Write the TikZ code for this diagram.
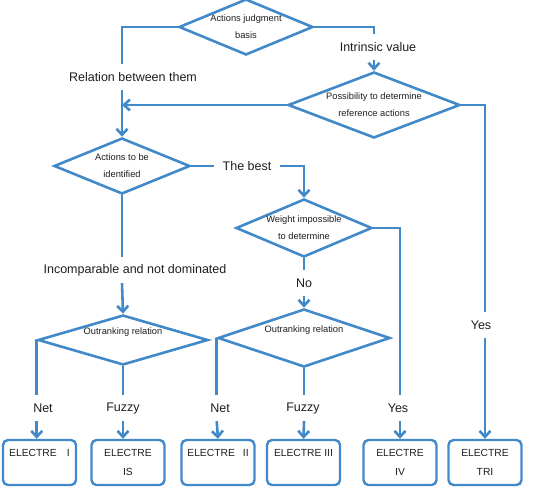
\documentclass[tikz,border=0pt]{standalone}
\usepackage{fontspec}
\setmainfont{Liberation Sans}
\usetikzlibrary{
arrows.meta,
shapes.geometric,
positioning
}
\definecolor{flowblue}{RGB}{66,137,201}
\definecolor{flowtext}{RGB}{30,30,30}
\tikzset{
  decision/.style={shape=diamond, draw=flowblue, line width=2.6pt, aspect=2.6,
    inner xsep=-6pt, inner ysep=-2pt, align=center, text=flowtext,
    font=\fontsize{9.3}{17}\selectfont},
  method/.style={shape=rectangle, rounded corners=5pt, draw=flowblue, line width=2.4pt,
    minimum width=73pt, minimum height=45pt, align=center, text=flowtext,
    font=\fontsize{10.3}{19}\selectfont},
  branch/.style={inner xsep=8pt, minimum height=26pt, text=flowtext,
    font=\fontsize{12.5}{15}\selectfont},
  flow/.style={draw=flowblue, line width=2.6pt},
  >={Straight Barb[length=6pt,width=11pt]}
}

\begin{document}
\begin{tikzpicture}[x=1pt,y=-1pt]
    \useasboundingbox (0,0) rectangle (551,490);
    % decisions
    \node [decision, minimum width=134pt, minimum height=56pt] (d1) at (246,27) {Actions judgment\\basis};
    \node [decision, minimum width=172pt, minimum height=66pt] (d2) at (374,105) {Possibility to determine\\reference actions};
    \node [decision, minimum width=136pt, minimum height=56pt] (d3) at (122,166) {Actions to be\\identified};
    \node [decision, minimum width=136pt, minimum height=58pt] (d4) at (304,228) {Weight impossible\\to determine};
    \node [decision, minimum width=170pt, minimum height=50pt] (d5) at (123,340) {Outranking relation\\\mbox{}};
    \node [decision, minimum width=172pt, minimum height=58pt] (d6) at (304,338) {Outranking relation\\\mbox{}};
    % methods
    \node [method] (e1) at (39.5,462.5) {ELECTRE\quad I\\\mbox{}};
    \node [method] (e2) at (128,462.5) {ELECTRE\\IS};
    \node [method] (e3) at (218,462.5) {ELECTRE\enspace\ II\\\mbox{}};
    \node [method] (e4) at (303.5,462.5) {ELECTRE III\\\mbox{}};
    \node [method] (e5) at (400,462.5) {ELECTRE\\IV};
    \node [method] (e6) at (485,462.5) {ELECTRE\\TRI};
    % branch labels
    \node [branch] (relation) at (133,77) {Relation between them};
    \node [branch] (intrinsic) at (378,47) {Intrinsic value};
    \node [branch] (best) at (247,166) {The best};
    \node [branch] (incomp) at (135,270) {Incomparable and not dominated};
    \node [branch] (no) at (304,283) {No};
    \node [branch] (yesR) at (481,325) {Yes};
    \node [branch] (netA) at (43,408) {Net};
    \node [branch] (fuzzyA) at (123,408) {Fuzzy};
    \node [branch] (netB) at (220,408) {Net};
    \node [branch] (fuzzyB) at (303,408) {Fuzzy};
    \node [branch] (yesB) at (398,408) {Yes};
    % connectors
    \draw[flow] (d1.west) -| (d3.north |- relation.north);
    \draw[flow,->] (d3.north |- relation.south) -- (d3.north);
    \draw[flow] (d1.east) -| (d2.north |- intrinsic.north);
    \draw[flow,->] (d2.north |- intrinsic.south) -- (d2.north);
    \draw[flow,->] (d2.west) -- (d3.north |- d2.west);
    \draw[flow] (d2.east) -| (e6.north |- yesR.north);
    \draw[flow,->] (e6.north |- yesR.south) -- (e6.north);
    \draw[flow] (d3.east) -- (d3.east -| best.west);
    \draw[flow,->] (best.east) -| (d4.north);
    \draw[flow] (d3.south) -- (d3.south |- incomp.north);
    \draw[flow,->] (d3.south |- incomp.south) -- (d5.north);
    \draw[flow] (d4.south) -- (d4.south |- no.north);
    \draw[flow,->] (d4.south |- no.south) -- (d6.north);
    \draw[flow] (d4.east) -| (e5.north |- yesB.north);
    \draw[flow,->] (e5.north |- yesB.south) -- (e5.north);
    \draw[flow] (d5.west) -- (d5.west |- netA.north);
    \draw[flow,->] (d5.west |- netA.south) -- (d5.west |- e1.north);
    \draw[flow] (d5.south) -- (d5.south |- fuzzyA.north);
    \draw[flow,->] (d5.south |- fuzzyA.south) -- (d5.south |- e2.north);
    \draw[flow] (d6.west) -- (d6.west |- netB.north);
    \draw[flow,->] (d6.west |- netB.south) -- (e3.north);
    \draw[flow] (d6.south) -- (d6.south |- fuzzyB.north);
    \draw[flow,->] (d6.south |- fuzzyB.south) -- (e4.north);
\end{tikzpicture}
\end{document}
